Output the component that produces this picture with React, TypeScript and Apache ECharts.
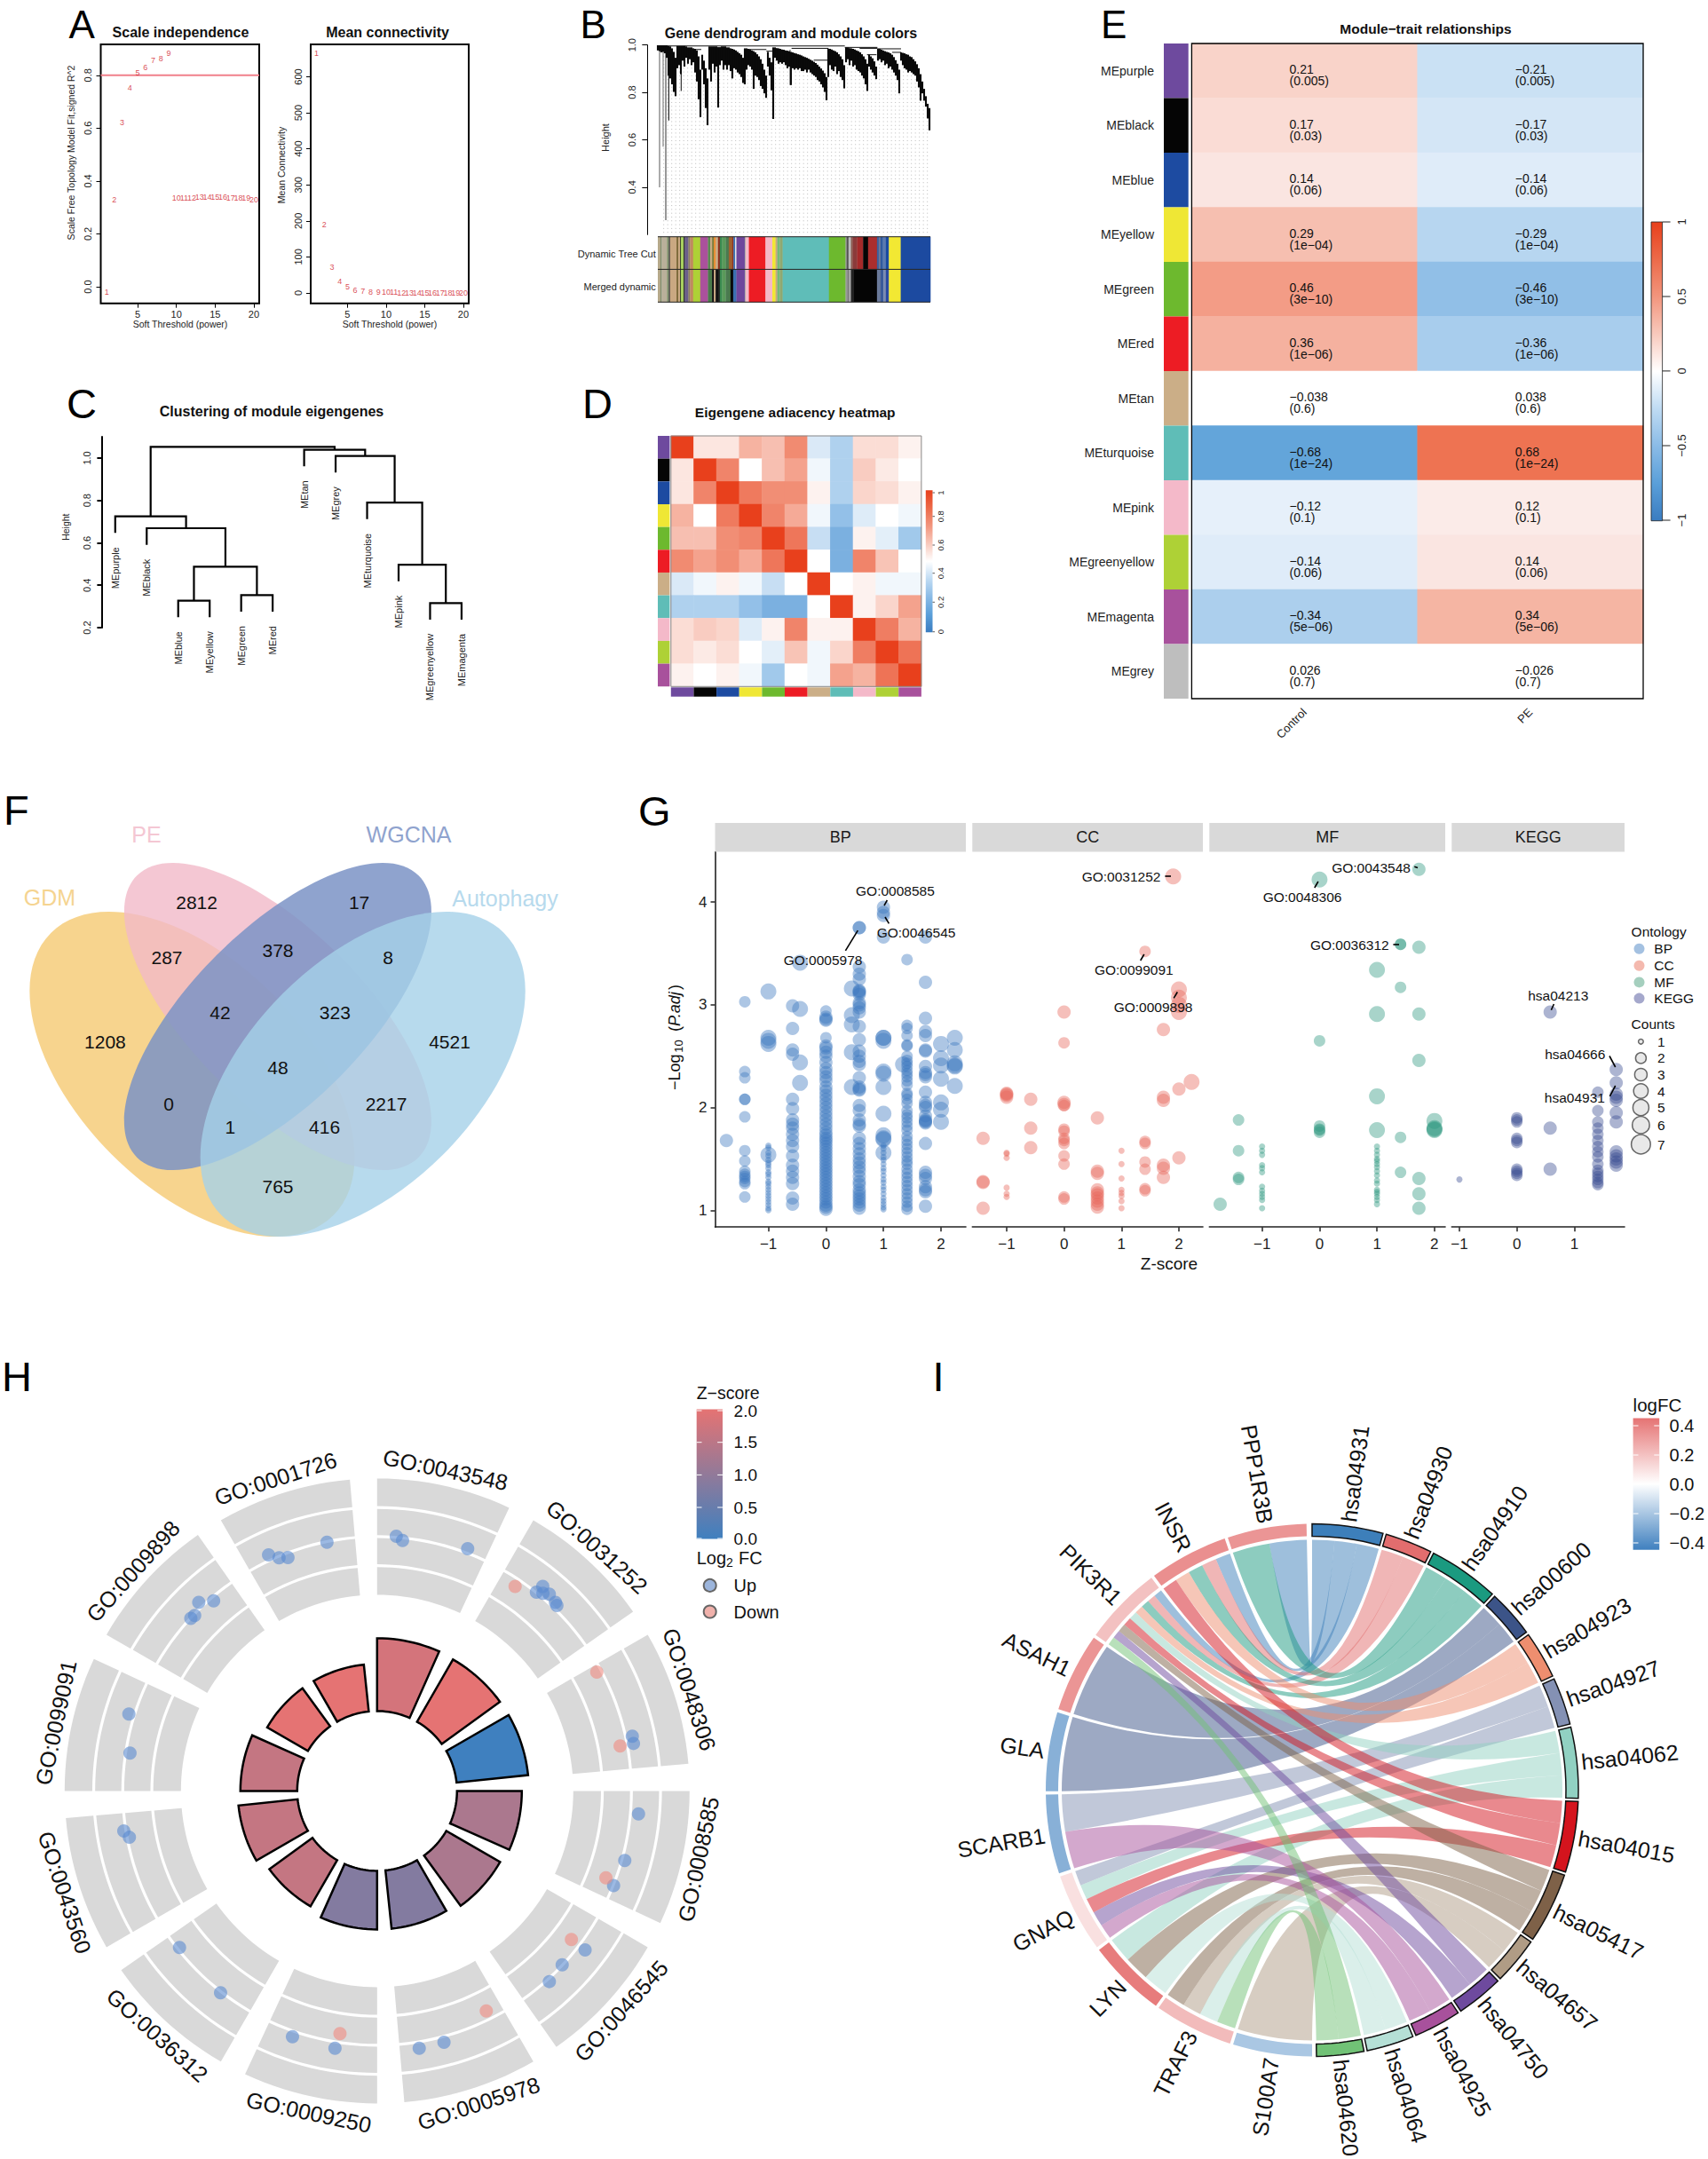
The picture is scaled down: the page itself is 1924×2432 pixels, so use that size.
import React, { useEffect, useRef } from "react";
import * as echarts from "echarts";

const FF = '"Liberation Sans", Arial, sans-serif';
const MINUS = "\u2212";

// ---------- Panel A ----------
const softPowers = [1,2,3,4,5,6,7,8,9,10,11,12,13,14,15,16,17,18,19,20];
const scaleFit = [-0.021,0.328,0.62,0.754,0.808,0.83,0.855,0.862,0.883,0.336,0.337,0.337,0.339,0.339,0.338,0.338,0.336,0.336,0.335,0.33];
const meanConn = [665,190,71,31,16,8,4,3,2,1.5,1.2,1,0.8,0.6,0.5,0.4,0.3,0.3,0.2,0.2];

// ---------- Panel B ----------
const dendroStart = 18;
const dendroStep = 6;
const dendroTop = [
.999,.999,.999,.999,.999,.999,.996,.994,.986,.971,.946,
.996,.996,.996,.996,.996,.994,.990,.990,.990,.986,.984,.977,.952,.896,
.959,.934,.902,.859,
.994,.994,.994,.994,.994,.991,.991,
.994,.994,.994,.990,.990,.986,.984,.981,.977,.971,.965,.959,.946,
.986,.986,.984,.981,.977,.974,.969,.961,.952,.940,.921,.896,.871,
.971,.946,.927,
.990,.990,.987,.986,.984,.981,.980,.977,.976,.974,.971,.969,.966,.964,.961,.959,.956,.952,.949,.946,.942,.938,.934,.929,.924,.917,.909,.901,.892,.881,.865,
.984,.984,.981,.977,.974,.969,.961,.952,.940,.915,
.990,.990,.987,.986,.984,.981,.977,.974,.969,.961,.952,.940,.921,
.959,.952,.944,.931,.909,
.984,.984,.980,.977,.974,.971,.969,.965,.959,.949,.936,.921,.896,
.969,.967,.965,.961,.959,.952,.949,.940,.931,.919,.902,.877,.846,.815,.784,.752,.734];
const dendroBottom = [
.977,.974,.969,.971,.965,.946,.871,.859,.834,.802,.784,
.902,.915,.877,.934,.909,.946,.921,.940,.915,.927,.884,.846,.771,.696,
.896,.834,.734,.662,
.896,.846,.921,.884,.909,.736,.915,
.934,.896,.915,.896,.915,.890,.859,.902,.896,.884,.877,.865,.840,
.834,.896,.915,.909,.896,.815,.871,.865,.852,.827,.815,.796,.777,
.909,.871,.809,
.688,.946,.934,.921,.927,.921,.927,.915,.902,.909,.831,.902,.896,.902,.896,.902,.890,.890,.896,.884,.896,.884,.877,.871,.865,.852,.846,.834,.821,.802,.767,
.865,.915,.896,.890,.909,.877,.890,.865,.852,.817,
.927,.940,.915,.934,.909,.915,.896,.890,.884,.871,.859,.834,.806,
.909,.896,.884,.871,.856,
.934,.940,.927,.934,.915,.921,.902,.909,.896,.884,.871,.852,.796,
.934,.915,.902,.896,.884,.890,.884,.877,.871,.846,.821,.765,.796,.765,.740,.690,.640];
const dendroSpikes: [number, number, string][] = [[24,.40,"#666"],[36,.571,"#777"],[45,.261,"#444"],[55,.681,"#111"],[97,.806,"#222"],[268,.859,"#777"],[465,.831,"#555"]];
const dendroJoins: [number, number, number][] = [[18,650,.996],[130,165,.981],[320,385,.981],[385,407,.974],[470,595,.986],[545,592,.936],[650,760,.990],[700,760,.986],[725,757,.959],[760,840,.984],[810,840,.969]];
const treeCutRow: [number, string][] = [[3,"#b5a98a"],[4.3,"#7a8a6a"],[10.3,"#b9b09a"],[12.3,"#80926a"],[13.7,"#444444"],[21,"#c9a882"],[23,"#7d6a3a"],[25,"#c9a882"],[25.7,"#111111"],[29,"#a8d060"],[30.3,"#222222"],[34.3,"#6b5f8a"],[36.3,"#8a7f5f"],[39.7,"#c08a60"],[47.7,"#aed136"],[56.3,"#ab519c"],[59,"#5a8a50"],[61,"#c9a882"],[63,"#7a7a3a"],[65,"#e98a2a"],[67.7,"#c9a882"],[69.7,"#903020"],[72.3,"#3a8a50"],[76.3,"#5a9a5a"],[79.7,"#4a7a50"],[83.7,"#a06030"],[85,"#903020"],[87,"#3a70b0"],[88.3,"#eeeeee"],[97.7,"#6f479c"],[98.7,"#aaaaaa"],[102.3,"#f4b8c8"],[121,"#ed1c24"],[128.7,"#f4b8c8"],[132.3,"#f2e833"],[134.3,"#c9a882"],[137,"#70b97a"],[140.3,"#90a870"],[192.3,"#5fbdb8"],[211,"#6db92e"],[212.3,"#999999"],[214.3,"#555555"],[217,"#bbbbbb"],[219,"#8a5a50"],[224,"#8b3a3a"],[230.7,"#a52a2a"],[236.3,"#050505"],[246.3,"#ab2e2e"],[248.3,"#3a60a0"],[250.3,"#6b7a9a"],[253,"#2f5aa0"],[256.3,"#5a7ab0"],[259.7,"#1a4aa0"],[273,"#f2e833"],[306.3,"#1c4aa0"]];
const mergedRow: [number, string][] = [[3,"#b5a98a"],[4.3,"#7a8a6a"],[10.3,"#b9b09a"],[12.3,"#80926a"],[13.7,"#444444"],[21,"#c9a882"],[23,"#7d6a3a"],[25,"#c9a882"],[25.7,"#111111"],[29,"#a8d060"],[30.3,"#222222"],[34.3,"#6b5f8a"],[36.3,"#8a7f5f"],[39.7,"#c08a60"],[47.7,"#aed136"],[56.3,"#ab519c"],[61,"#4a7a4a"],[63,"#0a0a0a"],[65,"#c9a882"],[67.7,"#111111"],[69.7,"#222222"],[72.3,"#3a8a50"],[76.3,"#5a9a5a"],[79.7,"#4a7a50"],[81.7,"#4a7a4a"],[84.7,"#0a0a0a"],[88.3,"#3a70b0"],[97.7,"#6f479c"],[98.7,"#aaaaaa"],[102.3,"#f4b8c8"],[121,"#ed1c24"],[128.7,"#f4b8c8"],[132.3,"#f2e833"],[134.3,"#c9a882"],[137,"#70b97a"],[140.3,"#90a870"],[192.3,"#5fbdb8"],[211,"#6db92e"],[213,"#999999"],[215,"#777777"],[217,"#aaaaaa"],[219.7,"#222222"],[246.3,"#050505"],[250.3,"#6b7a9a"],[253.7,"#3a5a9a"],[256.3,"#7a8ab0"],[259.7,"#2a4aa0"],[273,"#f2e833"],[306.3,"#1c4aa0"]];

// ---------- Modules (C, D, E) ----------
const moduleNames = ["MEpurple","MEblack","MEblue","MEyellow","MEgreen","MEred","MEtan","MEturquoise","MEpink","MEgreenyellow","MEmagenta","MEgrey"];
const moduleColors = ["#6E4A9E","#050505","#1D4BA1","#EFE735","#6DB92E","#ED1C24","#CBAE87","#5FBDB7","#F4B9C9","#AED136","#A8519C","#BEBEBE"];

// Panel C: R-style merge table; negative = leaf
const leafOrder = ["MEpurple","MEblack","MEblue","MEyellow","MEgreen","MEred","MEtan","MEgrey","MEturquoise","MEpink","MEgreenyellow","MEmagenta"];
const leafHang = 0.078;
const clusterMerges: [number, number, number][] = [[-3,-4,.327],[-5,-6,.353],[1,2,.487],[-2,3,.669],[-1,4,.725],[-11,-12,.316],[-10,6,.497],[-9,7,.79],[-8,8,1.01],[-7,9,1.039],[5,10,1.053]];

// Panel D
const adjacency = [
[1,.56,.56,.68,.65,.78,.42,.33,.58,.58,.53],
[.56,1,.8,.5,.65,.72,.47,.33,.62,.55,.5],
[.56,.8,1,.83,.77,.77,.53,.33,.6,.58,.53],
[.68,.5,.83,1,.8,.7,.47,.27,.43,.5,.47],
[.65,.65,.77,.8,1,.84,.38,.2,.53,.44,.3],
[.78,.72,.77,.7,.84,1,.5,.2,.8,.64,.5],
[.42,.47,.53,.47,.38,.5,1,.5,.53,.47,.47],
[.33,.33,.33,.27,.2,.2,.5,1,.53,.6,.72],
[.58,.62,.6,.43,.53,.8,.53,.53,1,.82,.68],
[.58,.55,.58,.5,.44,.64,.47,.6,.82,1,.85],
[.53,.5,.53,.47,.3,.5,.47,.72,.68,.85,1]];

// Panel E
const traitNames = ["Control","PE"];
const corrControl = [0.21,0.17,0.14,0.29,0.46,0.36,-0.038,-0.68,-0.12,-0.14,-0.34,0.026];
const corrPValues = ["0.005","0.03","0.06","1e\u221204","3e\u221210","1e\u221206","0.6","1e\u221224","0.1","0.06","5e\u221206","0.7"];

// Panel F
const vennCounts = ["2812","17","287","378","8","42","323","1208","4521","48","0","2217","1","416","765"];
const vennCountAt = [[221.6,1016.7],[404.6,1016.7],[188,1078.7],[313,1070.4],[437,1078.7],[248,1140],[377.3,1140],[118.4,1173.4],[506.5,1173.4],[313,1202.7],[190,1243.3],[435,1243.3],[259.3,1269],[365.6,1269],[313,1336]];

// Panel G: [z-score, gene count, -log10 padj values]
type Col = [number, number, number[]];
const bpColumns: Col[] = [
[-1.73,3,[1.68]],
[-1.41,2,[3.03,2.35,2.29,2.08,2.08,1.91,1.58,1.48,1.38,1.35,1.33,1.31,1.28,1.26,1.13]],
[-1,4,[3.13,2.68,2.65,2.62,1.54]],
[-1,1,[1.63,1.61,1.56,1.53,1.49,1.46,1.44,1.41,1.37,1.35,1.32,1.28,1.26,1.23,1.2,1.17,1.14,1.11,1.08,1.05,1.02,1]],
[-.58,3,[2.99,2.77,2.56,2.52,2.08,1.99,1.88,1.84,1.8,1.74,1.68,1.62,1.53,1.44,1.38,1.32,1.26,1.12,1.06]],
[-.45,4,[3.41,2.96,2.44,2.24]],
[0,2,[2.94,2.68]],
[0,3,[2.88,2.86,2.85,2.6,2.58,2.54,2.5,2.44,2.38,2.34,2.3,2.26,2.2,2.16,2.12,2.08,2.04,2,1.96,1.92,1.88,1.84,1.8,1.76,1.73,1.7,1.68,1.65,1.62,1.59,1.56,1.53,1.5,1.47,1.44,1.41,1.38,1.35,1.32,1.29,1.26,1.23,1.2,1.17,1.14,1.11,1.08,1.05,1.03,1.01]],
[.45,4,[3.16,2.9,2.81,2.54,2.2]],
[.58,3,[3.75,3.75,3.37,3.3,3.25,3.14,3.13,3.12,3.1,3.02,3,2.97,2.93,2.79,2.66,2.55,2.5,2.45,2.42,2.29,2.2,2.18,2.17,2.02,1.97,1.88,1.84,1.82,1.7,1.65,1.6,1.55,1.5,1.46,1.42,1.38,1.33,1.28,1.25,1.2,1.17,1.14,1.11,1.08,1.05,1.02]],
[1,3,[3.95,3.9,3.87,3.66]],
[1,4,[2.68,2.68,2.65,2.35,2.33,2.2,1.94,1.73,1.7,1.69,1.56]],
[1,1,[1.63,1.6,1.56,1.52,1.49,1.45,1.41,1.38,1.34,1.3,1.27,1.23,1.2,1.16,1.12,1.09,1.06,1.03,1.01]],
[1.34,4,[2.42]],
[1.41,2,[3.44,2.8,2.77,2.7,2.61,2.6,2.5,2.46,2.43,2.4,2.36,2.33,2.3,2.26,2.22,2.14,2.12,2.08,2.04,1.97,1.93,1.9,1.86,1.82,1.78,1.72,1.68,1.64,1.6,1.56,1.52,1.48,1.45,1.4,1.36,1.32,1.28,1.24,1.2,1.16,1.12,1.08,1.04,1.01]],
[1.73,3,[3.66,3.22,2.87,2.74,2.7,2.56,2.55,2.4,2.34,2.32,2.3,2.15,2.05,2.02,2,1.92,1.88,1.87,1.86,1.85,1.65,1.37,1.34,1.31,1.23,1.2,1.18,1.04]],
[2,4,[2.62,2.48,2.41,2.28,2.05,1.98,1.86]],
[2.24,4,[2.68,2.56,2.43,2.41,2.4,2.21]]];
const ccColumns: Col[] = [
[-1.41,3,[1.7,1.28,1.27,1.02]],
[-1,3,[2.14,2.13,2.12,2.1]],
[-1,1,[1.56,1.55,1.51,1.22,1.16,1.13]],
[-.58,3,[2.08,1.8,1.61]],
[0,3,[2.93,2.05,2.03]],
[0,2,[2.63,2.02,1.79,1.77,1.7,1.68,1.65,1.53,1.45,1.13,1.11]],
[.58,3,[1.9,1.38,1.36,1.2,1.17,1.15,1.12,1.09,1.06,1.03]],
[1,1,[1.58,1.45,1.31,1.2,1.17,1.14,1.09,1.02]],
[1.41,2,[3.52,1.67,1.65,1.47,1.4,1.21,1.19]],
[1.73,3,[2.76,2.1,2.07,1.44,1.41,1.32]],
[1.9,4,[4.25]],
[2,4,[3.15,3.07,3,2.93]],
[2,3,[2.18,1.51]],
[2.22,4,[2.25]]];
const mfColumns: Col[] = [
[-1.73,3,[1.06]],
[-1.41,2,[1.88,1.58,1.32,1.3]],
[-1,1,[1.62,1.58,1.54,1.44,1.41,1.37,1.23,1.19,1.16,1.13,1.1,1.02]],
[0,4,[4.22]],
[0,2,[2.65,1.82,1.79,1.78,1.76]],
[1,4,[3.34,2.91,2.11,1.78]],
[1,1,[1.62,1.58,1.54,1.5,1.48,1.45,1.42,1.38,1.34,1.29,1.26,1.2,1.18,1.16,1.13,1.1,1.06]],
[1.41,2,[3.59,3.59,3.17,1.71,1.37]],
[1.73,3,[4.32,3.56,2.91,2.46,1.31,1.16,1.02]],
[2,4,[1.87,1.8,1.79,1.78]]];
const keggColumns: Col[] = [
[-1,1,[1.3]],
[0,2,[1.9,1.88,1.86,1.7,1.68,1.66,1.4,1.38,1.36,1.34]],
[.58,3,[2.93,1.8,1.4]],
[1.41,2,[2.15,1.97,1.86,1.8,1.74,1.68,1.62,1.57,1.52,1.45,1.39,1.36,1.33,1.3,1.27,1.25]],
[1.73,3,[2.37,2.24,2.13,2.1,2.07,1.95,1.86,1.57,1.53,1.5,1.47,1.44]]];
const countDiameters = [0,7,13,15,18,20,22,24];

// Panel H
const circleTerms = ["GO:0043548","GO:0031252","GO:0048306","GO:0008585","GO:0046545","GO:0005978","GO:0009250","GO:0036312","GO:0043560","GO:0099091","GO:0009898","GO:0001726"];
const circleZ = [1.8,2,0,1.3,1.3,0.82,0.82,1.6,1.6,1.6,2,2];
const circleBarTop = [172,171,171,163,160,156,156,150,157,154,143,143];
// [radius, angle]
const circleUp = [[287.6,4.3],[283.5,5.8],[291.3,20.5],[296.5,39],[287,38.7],[290.6,40],[294.5,41.2],[292.4,43.4],[291,44.1],[294,77.9],[293.7,79.5],[295.6,95],[289.8,105.7],[286.9,111.8],[294.9,127.4],[286,133.2],[289.4,137.9],[293,165.1],[293.6,170.7],[293.6,189.3],[292.8,199],[287.7,217.8],[284,231.6],[283.9,259.4],[288.9,261],[281.6,278.7],[292.7,287.2],[286,312.8],[285.2,313.9],[292.4,316.6],[282.4,319.3],[292.6,335.3],[285,337.2],[281.5,339.1],[285.8,348.6]];
const circleDown = [[278,34],[281.3,61.6],[278.4,79.5],[275.7,110.8],[275.5,127.4],[276.6,153.6],[276.6,188.7]];

// Panel I
const chordTerms = ["hsa04931","hsa04930","hsa04910","hsa00600","hsa04923","hsa04927","hsa04062","hsa04015","hsa05417","hsa04657","hsa04750","hsa04925","hsa04064","hsa04620"];
const chordTermColors = ["#3D7FBA","#E26D6E","#1B9A80","#3C5488","#EE8E6F","#8491B4","#91D1C2","#D4141D","#7E6148","#B09C85","#6E4A9E","#A8519C","#B5E0D6","#71C276"];
const chordGenes = ["S100A7","TRAF3","LYN","GNAQ","SCARB1","GLA","ASAH1","PIK3R1","INSR","PPP1R3B"];
const chordLogFC = [-0.2,0.22,0.42,0.1,-0.28,-0.28,0.34,0.2,0.36,0.34];
const geneTerms: Record<string, string[]> = {
  S100A7:["hsa04657"],
  TRAF3:["hsa05417","hsa04657","hsa04064","hsa04620"],
  LYN:["hsa04062","hsa05417","hsa04064"],
  GNAQ:["hsa04927","hsa04062","hsa04015","hsa04750","hsa04925"],
  SCARB1:["hsa04927","hsa04925"],
  GLA:["hsa00600"],
  ASAH1:["hsa00600"],
  PIK3R1:["hsa04931","hsa04930","hsa04910","hsa04923","hsa04062","hsa04015","hsa05417","hsa04750","hsa04620"],
  INSR:["hsa04931","hsa04930","hsa04910","hsa04923","hsa04015"],
  PPP1R3B:["hsa04931","hsa04910"],
};

// ---------- helpers ----------
function mix(a: string, b: string, t: number) {
  const p = (h: string, i: number) => parseInt(h.slice(i, i + 2), 16);
  const c = [1, 3, 5].map((i) => Math.round(p(a, i) + (p(b, i) - p(a, i)) * t));
  return `rgb(${c[0]},${c[1]},${c[2]})`;
}
const zColor = (z: number) => mix("#3F80BF", "#E57373", z / 2);
const fcColor = (v: number) => (v >= 0 ? mix("#FFFFFF", "#E57373", Math.min(1, v / 0.45)) : mix("#FFFFFF", "#3F80BF", Math.min(1, -v / 0.45)));
const corrRedStops: [number, string][] = [[0.05,"#FFFFFF"],[0.12,"#FBECE8"],[0.17,"#FADCD5"],[0.29,"#F6BFB0"],[0.46,"#F39C85"],[0.68,"#EE7352"],[1,"#E8401C"]];
const corrBlueStops: [number, string][] = [[0.05,"#FFFFFF"],[0.12,"#E6F0FA"],[0.17,"#D3E6F6"],[0.29,"#B7D6F0"],[0.46,"#91BFE7"],[0.68,"#63A5DA"],[1,"#3A7CC0"]];
function corrColor(v: number) {
  const stops = v >= 0 ? corrRedStops : corrBlueStops;
  const a = Math.abs(v);
  if (a <= stops[0][0]) return "#FFFFFF";
  for (let i = 1; i < stops.length; i++) {
    if (a <= stops[i][0]) return mix(stops[i - 1][1], stops[i][1], (a - stops[i - 1][0]) / (stops[i][0] - stops[i - 1][0]));
  }
  return stops[stops.length - 1][1];
}
const corrRamp: string[] = [];
for (let i = 0; i <= 80; i++) corrRamp.push(corrColor(-1 + i * 0.025));

const T = (text: string, x: number, y: number, o: any = {}) => ({
  type: "text", x, y, z: 50, rotation: o.rot || 0, silent: true,
  style: { text, fill: o.fill || "#111", fontFamily: FF, fontSize: o.fs || 12, fontWeight: o.fw || "normal", fontStyle: o.it ? "italic" : "normal", align: o.al || "center", verticalAlign: o.va || "middle" },
});
const R = (x: number, y: number, width: number, height: number, fill: any, o: any = {}) => ({
  type: "rect", z: o.z ?? 40, silent: true, shape: { x, y, width, height }, style: { fill, stroke: o.stroke, lineWidth: o.lw },
});
const L = (x1: number, y1: number, x2: number, y2: number, stroke = "#000", lineWidth = 1) => ({
  type: "line", z: 50, silent: true, shape: { x1, y1, x2, y2 }, style: { stroke, lineWidth },
});
const C = (cx: number, cy: number, r: number, fill: string, stroke?: string, lineWidth?: number) => ({
  type: "circle", z: 50, silent: true, shape: { cx, cy, r }, style: { fill, stroke, lineWidth },
});
const E2 = (cx: number, cy: number, a: number, b: number, rot: number, fill: string, opacity: number, z: number) => ({
  type: "ellipse", x: cx, y: cy, rotation: rot, z, silent: true, shape: { cx: 0, cy: 0, rx: a, ry: b }, style: { fill, opacity },
});
const valAxis = (min: number, max: number, ticks: number[], o: any = {}) => ({
  type: "value", min, max, show: true,
  splitLine: { show: false },
  axisLine: { show: !!o.line, onZero: false, lineStyle: { color: o.lc || "#000", width: o.lw || 1.2 } },
  axisTick: { show: true, customValues: ticks, length: o.tick ?? 5, lineStyle: { color: o.lc || "#000", width: o.tw || 1 } },
  axisLabel: { show: true, customValues: ticks, fontFamily: FF, fontSize: o.fs || 11, color: "#222", margin: o.m ?? 8, rotate: o.rot || 0, ...(o.fmt ? { formatter: o.fmt } : {}) },
});
const hidVal = (min: number, max: number) => ({ type: "value", min, max, show: false, splitLine: { show: false }, axisLine: { onZero: false } });
const colPoints = (cols: Col[]) => {
  const out: number[][] = [];
  cols.forEach(([x, c, ys]) => ys.forEach((y) => out.push([x, y, c])));
  return out;
};
const gradient = (stops: string[]) => new (echarts as any).graphic.LinearGradient(0, 0, 0, 1, stops.map((color, i) => ({ offset: i / (stops.length - 1), color })));

function buildOption() {
  const grids: any[] = [], xs: any[] = [], ys: any[] = [], series: any[] = [], g: any[] = [];
  const add = (gr: any, x: any, y: any) => {
    const i = grids.length;
    grids.push({ ...gr, containLabel: false });
    xs.push({ ...x, gridIndex: i });
    ys.push({ ...y, gridIndex: i });
    return i;
  };
  // panel letters
  ([["A",77.5,27,44],["B",653.5,27,44],["E",1240,27,44],["C",75,454,47],["D",656,454,47],["F",4,912,47],["G",719,913.7,47],["H",2,1550.5,47],["I",1050.5,1550,47]] as [string,number,number,number][])
    .forEach(([s, x, y, fs]) => g.push(T(s, x, y, { fs, al: "left", fill: "#000" })));

  // ---- A ----
  const f2 = (v: number) => v.toFixed(1);
  const a1 = add({ left: 113.5, top: 50, width: 178.5, height: 291.7, show: true, borderColor: "#000", borderWidth: 2, backgroundColor: "#fff" },
    valAxis(0.24, 20.7, [5, 10, 15, 20], { m: 7 }),
    valAxis(-0.0627, 0.917, [0, 0.2, 0.4, 0.6, 0.8], { rot: 90, m: 9, fmt: f2 }));
  const a2 = add({ left: 350, top: 50, width: 178, height: 291.7, show: true, borderColor: "#000", borderWidth: 2, backgroundColor: "#fff" },
    valAxis(0.24, 20.7, [5, 10, 15, 20], { m: 7 }),
    valAxis(-28.9, 690, [0, 100, 200, 300, 400, 500, 600], { rot: 90, m: 9 }));
  series.push({ type: "line", xAxisIndex: a1, yAxisIndex: a1, showSymbol: false, data: [[0.24, 0.8], [20.7, 0.8]], lineStyle: { color: "#F0808A", width: 2 } });
  const softLabels = (arr: number[], gi: number) => series.push({
    type: "scatter", xAxisIndex: gi, yAxisIndex: gi, symbolSize: 1, itemStyle: { color: "transparent" }, z: 5,
    data: arr.map((v, i) => [softPowers[i], v]),
    label: { show: true, position: "inside", fontFamily: FF, fontSize: 9, color: "#D0182A", formatter: (p: any) => String(p.data[0]) },
  });
  softLabels(scaleFit, a1);
  softLabels(meanConn, a2);
  g.push(T("Scale independence", 203.5, 36.7, { fs: 16, fw: "bold" }));
  g.push(T("Mean connectivity", 436.5, 36.7, { fs: 16, fw: "bold" }));
  g.push(T("Scale Free Topology Model Fit,signed R^2", 80, 172, { fs: 10.5, rot: Math.PI / 2, fill: "#222" }));
  g.push(T("Mean Connectivity", 316.5, 186, { fs: 10.5, rot: Math.PI / 2, fill: "#222" }));
  g.push(T("Soft Threshold (power)", 203, 365, { fs: 10.5, fill: "#222" }));
  g.push(T("Soft Threshold (power)", 439, 365, { fs: 10.5, fill: "#222" }));

  // ---- B ----
  const b1 = add({ left: 729.33, top: 50.7, width: 319, height: 213.6 },
    hidVal(-17, 940),
    valAxis(0.2, 1, [0.4, 0.6, 0.8, 1], { rot: 90, m: 12, line: true, lw: 1, tick: 6, fmt: f2 }));
  const dendroPoints = dendroTop.map((t, i) => [dendroStart + i * dendroStep, t, dendroBottom[i]]);
  const guideData: number[][] = [];
  for (let px = 38; px <= 938; px += 13.5) {
    const idx = Math.min(dendroBottom.length - 1, Math.round((px - dendroStart) / dendroStep));
    guideData.push([px, dendroBottom[idx]]);
  }
  series.push({
    type: "custom", xAxisIndex: b1, yAxisIndex: b1, clip: false, silent: true, data: guideData,
    renderItem: (_: any, api: any) => {
      const a = api.coord([api.value(0), 0.208]);
      const b = api.coord([api.value(0), api.value(1)]);
      return { type: "line", shape: { x1: a[0], y1: a[1], x2: b[0], y2: b[1] }, style: { stroke: "#aaa", lineWidth: 0.8, lineDash: [1, 3.3] } };
    },
  });
  series.push({
    type: "custom", xAxisIndex: b1, yAxisIndex: b1, clip: false, silent: true, data: dendroSpikes.map((s) => [s[0], s[1]]),
    renderItem: (p: any, api: any) => {
      const a = api.coord([api.value(0), 0.98]);
      const b = api.coord([api.value(0), api.value(1)]);
      return { type: "line", shape: { x1: a[0], y1: a[1], x2: b[0], y2: b[1] }, style: { stroke: dendroSpikes[p.dataIndex][2], lineWidth: 1.1 } };
    },
  });
  series.push({
    type: "custom", xAxisIndex: b1, yAxisIndex: b1, clip: false, silent: true, data: dendroPoints,
    renderItem: (_: any, api: any) => {
      const a = api.coord([api.value(0), api.value(1)]);
      const b = api.coord([api.value(0), api.value(2)]);
      return { type: "line", shape: { x1: a[0], y1: a[1], x2: b[0], y2: b[1] }, style: { stroke: "#0a0a0a", lineWidth: 2.1 } };
    },
  });
  series.push({
    type: "custom", xAxisIndex: b1, yAxisIndex: b1, clip: false, silent: true, data: dendroJoins.map((j) => [j[0], j[2], j[1]]),
    renderItem: (_: any, api: any) => {
      const a = api.coord([api.value(0), api.value(1)]);
      const b = api.coord([api.value(2), api.value(1)]);
      return { type: "line", shape: { x1: a[0], y1: a[1], x2: b[0], y2: b[1] }, style: { stroke: "#111", lineWidth: 1 } };
    },
  });
  const b2 = add({ left: 741, top: 266.7, width: 307, height: 73.6 }, hidVal(0, 306.3), hidVal(0, 2));
  const rowSeries = (row: [number, string][], base: number) => {
    const items = row.map((r, i) => [i === 0 ? 0 : row[i - 1][0], base, r[0]]);
    series.push({
      type: "custom", xAxisIndex: b2, yAxisIndex: b2, clip: false, silent: true, data: items,
      renderItem: (p: any, api: any) => {
        const a = api.coord([api.value(0), base + 1]);
        const b = api.coord([api.value(2), base]);
        return { type: "rect", shape: { x: a[0], y: a[1], width: b[0] - a[0] + 0.3, height: b[1] - a[1] }, style: { fill: row[p.dataIndex][1] } };
      },
    });
  };
  rowSeries(treeCutRow, 1);
  rowSeries(mergedRow, 0);
  g.push(L(741, 266.7, 1048, 266.7, "#222", 1), L(741, 303.4, 1048, 303.4, "#222", 1), L(741, 340.3, 1048, 340.3, "#222", 1));
  g.push(T("Gene dendrogram and module colors", 891, 37, { fs: 16, fw: "bold" }));
  g.push(T("Height", 681.6, 155, { fs: 11, rot: Math.PI / 2, fill: "#222" }));
  g.push(T("Dynamic Tree Cut", 738.8, 285.7, { fs: 11, al: "right", fill: "#222" }));
  g.push(T("Merged dynamic", 738.8, 322.7, { fs: 11, al: "right", fill: "#222" }));

  // ---- C ----
  const cG = add({ left: 114.4, top: 492.1, width: 441, height: 214.9 },
    hidVal(0.566, 13),
    valAxis(0.2, 1.1, [0.2, 0.4, 0.6, 0.8, 1], { rot: 90, m: 11, line: true, lw: 2, tw: 2, tick: 5, fmt: f2 }));
  series.push({
    type: "custom", xAxisIndex: cG, yAxisIndex: cG, clip: false, silent: true, data: [[1, 1]],
    renderItem: (_: any, api: any) => {
      const children: any[] = [];
      const nodes: { x: number; h: number }[] = [];
      const leafBottom: Record<number, number> = {};
      const get = (id: number, parentH: number) => {
        if (id < 0) {
          leafBottom[-id] = parentH - leafHang;
          return { x: -id, h: parentH - leafHang };
        }
        return nodes[id - 1];
      };
      clusterMerges.forEach(([a, b, h]) => {
        const na = get(a, h), nb = get(b, h);
        const p1 = api.coord([na.x, na.h]), p2 = api.coord([na.x, h]), p3 = api.coord([nb.x, h]), p4 = api.coord([nb.x, nb.h]);
        children.push({ type: "polyline", shape: { points: [p1, p2, p3, p4] }, style: { stroke: "#000", lineWidth: 2.2, fill: "none" } });
        nodes.push({ x: (na.x + nb.x) / 2, h });
      });
      leafOrder.forEach((name, i) => {
        const p = api.coord([i + 1, leafBottom[i + 1]]);
        children.push({ type: "text", x: p[0], y: p[1] + 16, rotation: Math.PI / 2, style: { text: name, fontFamily: FF, fontSize: 11, fill: "#222", align: "right", verticalAlign: "middle" } });
      });
      return { type: "group", children };
    },
  });
  g.push(T("Clustering of module eigengenes", 306, 463.7, { fs: 16, fw: "bold" }));
  g.push(T("Height", 73.7, 593.7, { fs: 10.5, rot: Math.PI / 2, fill: "#222" }));

  // ---- D ----
  const dNames = moduleNames.slice(0, 11);
  const dG = add({ left: 755.8, top: 491, width: 282.1, height: 282.3 },
    { type: "category", data: dNames, show: false, axisLine: { onZero: false } },
    { type: "category", data: dNames, inverse: true, show: false, axisLine: { onZero: false } });
  const dData: number[][] = [];
  adjacency.forEach((row, r) => row.forEach((v, c) => dData.push([c, r, v])));
  const dIdx = series.push({ type: "heatmap", xAxisIndex: dG, yAxisIndex: dG, data: dData, silent: true, itemStyle: { borderWidth: 0 }, progressive: 0 }) - 1;
  g.push(R(755.8, 491, 282.1, 282.3, "none", { stroke: "#888", lw: 1 }));
  dNames.forEach((_, i) => {
    g.push(R(741, 491 + i * 25.66, 13.4, 25.66, moduleColors[i]));
    g.push(R(755.8 + i * 25.645, 774.3, 25.645, 10.4, moduleColors[i]));
  });
  g.push(R(1042.8, 552.3, 7.7, 160, gradient(["#E8401C", "#EC6A49", "#F2957D", "#F8C9BC", "#FFFFFF", "#BFDBF3", "#8ABBE6", "#5A9FD9", "#3A7CC0"])));
  ([["1",555],["0.8",581.7],["0.6",614],["0.4",645.7],["0.2",678.3],["0",711.7]] as [string,number][]).forEach(([s, yy]) => {
    g.push(T(s, 1059.6, yy, { fs: 9.5, rot: Math.PI / 2, fill: "#222" }));
    g.push(L(1050.5, yy, 1053, yy, "#333", 0.8));
  });
  g.push(T("Eigengene adiacency heatmap", 895.7, 464, { fs: 15.5, fw: "bold" }));

  // ---- E ----
  const eG = add({ left: 1342.4, top: 49, width: 508.6, height: 738 },
    { type: "category", data: traitNames, axisTick: { show: false }, axisLine: { show: false, onZero: false }, axisLabel: { fontFamily: FF, fontSize: 13, color: "#222", rotate: 45, margin: 13 } },
    { type: "category", data: moduleNames, inverse: true, axisTick: { show: false }, axisLine: { show: false, onZero: false }, axisLabel: { fontFamily: FF, fontSize: 14, color: "#222", margin: 42.4 } });
  const fmtR = (v: number) => String(v).replace("-", MINUS);
  const eData: any[] = [];
  corrControl.forEach((v, r) => {
    eData.push({ value: [0, r, v], txt: `${fmtR(v)}\n(${corrPValues[r]})` });
    eData.push({ value: [1, r, -v], txt: `${fmtR(-v)}\n(${corrPValues[r]})` });
  });
  const eIdx = series.push({
    type: "heatmap", xAxisIndex: eG, yAxisIndex: eG, data: eData, silent: true, progressive: 0,
    label: { show: true, position: "inside", align: "left", offset: [-17, 5], fontFamily: FF, fontSize: 14, lineHeight: 12.7, color: "#111", formatter: (p: any) => p.data.txt },
  }) - 1;
  g.push(R(1342.4, 49, 508.6, 738, "none", { stroke: "#000", lw: 1.3 }));
  moduleColors.forEach((c, i) => g.push(R(1311, 49 + i * 61.5, 27.7, 61.5, c)));
  g.push(T("Module\u2212trait relationships", 1606, 32, { fs: 15.5, fw: "bold" }));
  g.push(R(1860, 250, 12.6, 336.7, gradient(["#E8401C", "#EC6A49", "#F2957D", "#F8C9BC", "#FFFFFF", "#BFDBF3", "#8ABBE6", "#5A9FD9", "#3A7CC0"]), { stroke: "#222", lw: 0.8 }));
  ([["1",250],["0.5",334],["0",417.9],[MINUS + "0.5",502],[MINUS + "1",586]] as [string,number][]).forEach(([s, y]) => {
    g.push(L(1872.6, y, 1881.6, y, "#222", 1));
    g.push(T(s, 1894.8, y, { fs: 13, rot: Math.PI / 2, fill: "#222" }));
  });

  // ---- F ----
  g.push(E2(216.4, 1210, 225, 128, -Math.PI / 4, "#F2B843", 0.6, 10));
  g.push(E2(312.9, 1145, 224.4, 97.5, -Math.PI / 4, "#F1B9C8", 0.8, 11));
  g.push(E2(312.9, 1145, 224.4, 97.5, Math.PI / 4, "#7B93C5", 0.85, 12));
  g.push(E2(408.7, 1210, 225, 128, Math.PI / 4, "#A5D1E8", 0.8, 13));
  vennCounts.forEach((s, i) => g.push(T(s, vennCountAt[i][0], vennCountAt[i][1], { fs: 21, fill: "#111" })));
  g.push(T("GDM", 56, 1010.9, { fs: 25, fill: "#F5D491" }));
  g.push(T("PE", 165, 940, { fs: 25, fill: "#F4C7D3" }));
  g.push(T("WGCNA", 460.5, 940, { fs: 25, fill: "#8FA3CE" }));
  g.push(T("Autophagy", 569, 1012, { fs: 25, fill: "#B7DAED" }));

  // ---- G ----
  const gFmt = (v: number) => String(v).replace("-", MINUS);
  const gTop = 959.6, gH = 422.6, yMin = 0.837, yMax = 4.489;
  const panels: { name: string; left: number; right: number; xmin: number; xmax: number; ticks: number[]; cols: Col[]; color: string }[] = [
    { name: "BP", left: 805.5, right: 1088, xmin: -1.927, xmax: 2.432, ticks: [-1, 0, 1, 2], cols: bpColumns, color: "#3B78BE" },
    { name: "CC", left: 1095.3, right: 1355, xmin: -1.597, xmax: 2.417, ticks: [-1, 0, 1, 2], cols: ccColumns, color: "#E6665A" },
    { name: "MF", left: 1362.3, right: 1628, xmin: -1.918, xmax: 2.188, ticks: [-1, 0, 1, 2], cols: mfColumns, color: "#2F9880" },
    { name: "KEGG", left: 1635.3, right: 1830, xmin: -1.134, xmax: 1.875, ticks: [-1, 0, 1], cols: keggColumns, color: "#3A4C92" },
  ];
  panels.forEach((p, i) => {
    const gi = add({ left: p.left, top: gTop, width: p.right - p.left, height: gH },
      valAxis(p.xmin, p.xmax, p.ticks, { line: true, lw: 1.6, tw: 1.5, tick: 5, fs: 17, m: 11, lc: "#222", fmt: gFmt }),
      i === 0
        ? valAxis(yMin, yMax, [1, 2, 3, 4], { line: true, lw: 1.6, tw: 1.5, tick: 5, fs: 17, m: 9, lc: "#222" })
        : hidVal(yMin, yMax));
    series.push({
      type: "scatter", xAxisIndex: gi, yAxisIndex: gi, data: colPoints(p.cols), silent: true,
      symbolSize: (v: number[]) => countDiameters[v[2]],
      itemStyle: { color: p.color, opacity: 0.42 },
    });
    g.push(R(p.left, 927, p.right - p.left, 32.6, "#D9D9D9"));
    g.push(T(p.name, (p.left + p.right) / 2, 943.4, { fs: 18, fill: "#1a1a1a" }));
  });
  ([
    ["GO:0008585",1008.4,1003.6,996,1020,999.4,1014],
    ["GO:0046545",1032,1050.6,997,1033,1001.4,1040.4],
    ["GO:0005978",927,1081,966.3,1048.2,952.4,1070.9],
    ["GO:0031252",1263,987.4,1312.4,987,1319,987],
    ["GO:0099091",1277.3,1092.2,1288.8,1075,1284.7,1082],
    ["GO:0009898",1299,1134.8,1326.3,1117.5,1322.2,1124.3],
    ["GO:0043548",1544.5,977.2,1593.3,976.2,1597,977.6],
    ["GO:0048306",1467,1010.7,1484.9,993,1480.8,1000],
    ["GO:0036312",1520.3,1064.8,1569.4,1064,1576,1064],
    ["hsa04213",1755.3,1121.6,1750.4,1131,1747.4,1137.8],
    ["hsa04666",1774.3,1187.8,1813,1189.5,1819.7,1202],
    ["hsa04931",1773.9,1236.8,1813.4,1234.8,1819.7,1223],
  ] as [string,number,number,number,number,number,number][]).forEach(([s, x, y, a, b, c, d]) => {
    g.push(T(s, x, y, { fs: 15.5, fill: "#111" }));
    g.push(L(a, b, c, d, "#000", 1.6));
  });
  g.push(T(MINUS + "Log", 759.8, 1228, { fs: 18, al: "left", rot: Math.PI / 2 }));
  g.push(T("10", 764, 1185.8, { fs: 13, al: "left", rot: Math.PI / 2 }));
  g.push(T("(", 759.8, 1162, { fs: 18, al: "left", rot: Math.PI / 2 }));
  g.push(T("P.adj", 759.8, 1156, { fs: 18, al: "left", rot: Math.PI / 2, it: true }));
  g.push(T(")", 759.8, 1115, { fs: 18, al: "left", rot: Math.PI / 2 }));
  g.push(T("Z-score", 1317, 1423, { fs: 19, fill: "#111" }));
  g.push(T("Ontology", 1837.6, 1049.6, { fs: 15.5, al: "left" }));
  ([["BP","#A4C1E1",1068.8],["CC","#F4B9AE",1087.8],["MF","#A5CFBE",1106.4],["KEGG","#A5A8CC",1124.6]] as [string,string,number][]).forEach(([s, c, y]) => {
    g.push(C(1846.5, y, 6, c));
    g.push(T(s, 1863.3, y, { fs: 15.5, al: "left" }));
  });
  g.push(T("Counts", 1837.6, 1153.4, { fs: 15.5, al: "left" }));
  ([["1",1173.3,2.8],["2",1191.9,6],["3",1210.5,7],["4",1229,8.2],["5",1247.7,9],["6",1267.3,9.7],["7",1289,10.8]] as [string,number,number][]).forEach(([s, y, r]) => {
    g.push(C(1848.4, y, r, "#E8E8E8", "#666", 1.5));
    g.push(T(s, 1867, y, { fs: 15.5, al: "left" }));
  });

  // ---- H ----
  const rIn = 221, band = 32.75, spanH = 25;
  const circleSec = circleTerms.map((_, i) => [i, i * 30]);
  const arc = (api: any, r: number, a0: number, a1: number) => {
    const n = Math.max(2, Math.ceil(Math.abs(a1 - a0) / 2));
    const out: number[][] = [];
    for (let k = 0; k <= n; k++) out.push(api.coord([r, a0 + ((a1 - a0) * k) / n]));
    return out;
  };
  series.push({
    type: "custom", coordinateSystem: "polar", polarIndex: 0, silent: true, clip: false, data: circleSec,
    renderItem: (p: any, api: any) => {
      const a0 = p.dataIndex * 30, a1 = a0 + spanH;
      const children: any[] = [];
      for (let k = 0; k < 4; k++) {
        const r0 = rIn + k * band + (k ? 1.6 : 0), r1 = rIn + (k + 1) * band - (k < 3 ? 1.6 : 0);
        children.push({ type: "polygon", shape: { points: [...arc(api, r1, a0, a1), ...arc(api, r0, a1, a0)] }, style: { fill: "#D9D9D9" } });
      }
      const top = circleBarTop[p.dataIndex];
      const barEnd = a0 + 24;
      children.push({ type: "polygon", shape: { points: [...arc(api, top, a0, barEnd), ...arc(api, 90, barEnd, a0)] }, style: { fill: zColor(circleZ[p.dataIndex]), stroke: "#000", lineWidth: 2.5 } });
      const mid = a0 + 12;
      const pos = api.coord([370, mid]);
      const cw = mid < 90 ? mid : mid < 270 ? mid - 180 : mid - 360;
      children.push({ type: "text", x: pos[0], y: pos[1], rotation: (-cw * Math.PI) / 180, style: { text: circleTerms[p.dataIndex], fontFamily: FF, fontSize: 25, fill: "#111", align: "center", verticalAlign: "middle" } });
      return { type: "group", children };
    },
  });
  series.push({ type: "scatter", coordinateSystem: "polar", polarIndex: 0, silent: true, data: circleUp, symbolSize: 15, itemStyle: { color: "#5A8BD0", opacity: 0.6 }, z: 5 });
  series.push({ type: "scatter", coordinateSystem: "polar", polarIndex: 0, silent: true, data: circleDown, symbolSize: 15, itemStyle: { color: "#F08A80", opacity: 0.6 }, z: 5 });
  g.push(T("Z\u2212score", 784.7, 1568.5, { fs: 19.5, al: "left" }));
  g.push(R(784.7, 1587.5, 29.3, 146, gradient(["#E57373", "#3F80BF"])));
  ([["2.0",1589],["1.5",1624.7],["1.0",1661.4],["0.5",1698],["0.0",1733]] as [string,number][]).forEach(([s, y]) => {
    g.push(T(s, 826.6, y, { fs: 19, al: "left" }));
    const yy = Math.min(1733, Math.max(1588, y));
    g.push(L(784.7, yy, 790.5, yy, "#fff", 1), L(808.2, yy, 814, yy, "#fff", 1));
  });
  g.push(T("Log", 784.7, 1755, { fs: 20, al: "left" }));
  g.push(T("2", 818, 1759.5, { fs: 14, al: "left" }));
  g.push(T("FC", 832, 1755, { fs: 20, al: "left" }));
  g.push(C(799.7, 1785.9, 7, "#9CB5DC", "#666", 2));
  g.push(C(799.7, 1815.5, 7, "#F0B1AB", "#666", 2));
  g.push(T("Up", 826.6, 1785.9, { fs: 20, al: "left" }));
  g.push(T("Down", 826.6, 1815.5, { fs: 20, al: "left" }));

  // ---- I ----
  const unit = 5.15, gapI = 0.7, geneW = 17.25;
  const termCount = chordTerms.map((t) => chordGenes.filter((ge) => geneTerms[ge].includes(t)).length);
  const termStart: number[] = [];
  let ang = 0;
  termCount.forEach((c) => { termStart.push(ang); ang += c * unit + gapI; });
  const geneStart = chordGenes.map((_, i) => 180 + i * (geneW + gapI));
  type Link = { t: number; g: number; a0: number; a1: number; b0: number; b1: number };
  const links: Link[] = [];
  chordTerms.forEach((t, ti) => {
    const gs = chordGenes.map((ge, gi) => gi).filter((gi) => geneTerms[chordGenes[gi]].includes(t)).reverse();
    gs.forEach((gi, slot) => {
      const ts = geneTerms[chordGenes[gi]].map((x) => chordTerms.indexOf(x)).sort((a, b) => b - a);
      const gSlot = ts.indexOf(ti);
      const w = geneW / ts.length;
      links.push({ t: ti, g: gi, a0: termStart[ti] + slot * unit, a1: termStart[ti] + (slot + 1) * unit, b0: geneStart[gi] + gSlot * w, b1: geneStart[gi] + (gSlot + 1) * w });
    });
  });
  const rR = 282;
  series.push({
    type: "custom", coordinateSystem: "polar", polarIndex: 1, silent: true, clip: false, data: links.map((l) => [rR, l.a0]),
    renderItem: (p: any, api: any) => {
      const l = links[p.dataIndex];
      const c = api.coord([0, 0]);
      const A = arc(api, rR, l.a0, l.a1), B = arc(api, rR, l.b0, l.b1);
      let d = `M${A[0][0]} ${A[0][1]}`;
      A.slice(1).forEach((q) => (d += `L${q[0]} ${q[1]}`));
      d += `Q${c[0]} ${c[1]} ${B[0][0]} ${B[0][1]}`;
      B.slice(1).forEach((q) => (d += `L${q[0]} ${q[1]}`));
      d += `Q${c[0]} ${c[1]} ${A[0][0]} ${A[0][1]}Z`;
      return { type: "path", shape: { pathData: d }, style: { fill: chordTermColors[l.t], opacity: 0.5 } };
    },
  });
  const ringData = [...chordTerms.map((_, i) => [i, 0]), ...chordGenes.map((_, i) => [i, 1])];
  const ringOuter = 300, ringInner = 286;
  series.push({
    type: "custom", coordinateSystem: "polar", polarIndex: 1, silent: true, clip: false, data: ringData.map((d) => [290, d[0] * 10]),
    renderItem: (p: any, api: any) => {
      const [i, kind] = ringData[p.dataIndex];
      const a0 = kind ? geneStart[i] : termStart[i];
      const a1 = a0 + (kind ? geneW : termCount[i] * unit);
      const mid = (a0 + a1) / 2;
      const name = kind ? chordGenes[i] : chordTerms[i];
      const pos = api.coord([305, mid]);
      const right = mid < 180;
      const cw = right ? mid - 90 : mid - 270;
      return {
        type: "group",
        children: [
          { type: "polygon", shape: { points: [...arc(api, ringOuter, a0, a1), ...arc(api, ringInner, a1, a0)] }, style: kind ? { fill: fcColor(chordLogFC[i]) } : { fill: chordTermColors[i], stroke: "#111", lineWidth: 1.5 } },
          { type: "text", x: pos[0], y: pos[1], rotation: (-cw * Math.PI) / 180, style: { text: name, fontFamily: FF, fontSize: 25, fill: "#111", align: right ? "left" : "right", verticalAlign: "middle" } },
        ],
      };
    },
  });
  g.push(T("logFC", 1839.6, 1582, { fs: 20.5, al: "left" }));
  g.push(R(1839.6, 1597.4, 29.6, 148.3, gradient(["#E57373", "#FFFFFF", "#3F80BF"])));
  ([["0.4",1606],["0.2",1639],["0.0",1671.8],[MINUS + "0.2",1705],[MINUS + "0.4",1738]] as [string,number][]).forEach(([s, y]) => {
    g.push(T(s, 1880.6, y, { fs: 20, al: "left" }));
    g.push(L(1839.6, y, 1845.5, y, "#fff", 1), L(1863.3, y, 1869.2, y, "#fff", 1));
  });

  return {
    animation: false,
    backgroundColor: "#fff",
    textStyle: { fontFamily: FF },
    grid: grids,
    xAxis: xs,
    yAxis: ys,
    polar: [
      { center: [424.8, 2017.4], radius: 352 },
      { center: [1478, 2016.5], radius: 300 },
    ],
    radiusAxis: [
      { polarIndex: 0, type: "value", min: 0, max: 352, show: false, splitLine: { show: false } },
      { polarIndex: 1, type: "value", min: 0, max: 300, show: false, splitLine: { show: false } },
    ],
    angleAxis: [
      { polarIndex: 0, type: "value", min: 0, max: 360, startAngle: 90, clockwise: true, show: false, splitLine: { show: false } },
      { polarIndex: 1, type: "value", min: 0, max: 360, startAngle: 90, clockwise: true, show: false, splitLine: { show: false } },
    ],
    visualMap: [
      { type: "continuous", show: false, seriesIndex: dIdx, dimension: 2, min: 0, max: 1, inRange: { color: ["#3F85C6", "#8ABBE6", "#FFFFFF", "#F2957D", "#E8401C"] } },
      { type: "continuous", show: false, seriesIndex: eIdx, dimension: 2, min: -1, max: 1, inRange: { color: corrRamp } },
    ],
    graphic: { elements: g },
    series,
  };
}

export default function App() {
  const ref = useRef<HTMLDivElement>(null);
  useEffect(() => {
    document.body.style.margin = "0";
    const chart = echarts.init(ref.current as HTMLDivElement, undefined, { renderer: "svg", width: 1924, height: 2432 });
    chart.setOption(buildOption() as any);
    return () => chart.dispose();
  }, []);
  return <div ref={ref} style={{ position: "absolute", left: 0, top: 0, width: 1924, height: 2432 }} />;
}
